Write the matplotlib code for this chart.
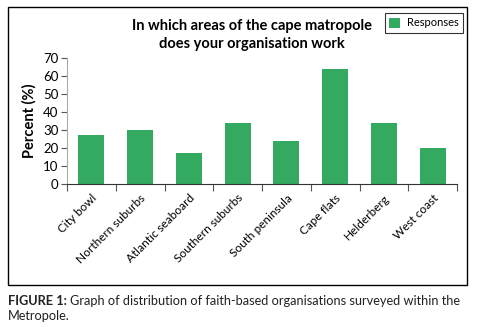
import matplotlib.pyplot as plt
from matplotlib.patches import Rectangle

areas = ['City bowl', 'Northern suburbs', 'Atlantic seaboard', 'Southern suburbs',
         'South peninsula', 'Cape flats', 'Helderberg', 'West coast']
responses = [27, 30, 17, 34, 24, 64, 34, 20]
yticks = [0, 10, 20, 30, 40, 50, 60, 70]

plt.rcParams['font.family'] = ['Lato', 'DejaVu Sans']

fig = plt.figure(figsize=(4.8, 3.27), dpi=100)
W, H = 480, 327

# outer frame around the chart
fig.patches.append(Rectangle((8 / W, 1 - 285 / H), 459 / W, 278 / H,
                             transform=fig.transFigure, fill=False,
                             edgecolor='black', linewidth=1.0))

ax = fig.add_axes([67 / W, 1 - 184 / H, 390 / W, 126 / H])
x = range(len(areas))
ax.bar(x, responses, width=0.53, color='#34AA61', label='Responses')

ax.set_xlim(-0.5, len(areas) - 0.5)
ax.set_ylim(0, 70)
ax.set_yticks(yticks)
ax.tick_params(axis='y', labelsize=9.5, length=4, color='#555555', pad=2)
ax.set_xticks([i - 0.5 for i in range(len(areas) + 1)])
ax.set_xticklabels([])
ax.set_xticks(list(x), minor=True)
ax.set_xticklabels(areas, minor=True, rotation=45, ha='right',
                   rotation_mode='anchor', fontsize=8.5)
ax.tick_params(axis='x', which='major', length=5, color='#555555')
ax.tick_params(axis='x', which='minor', length=0, pad=6)

ax.spines['top'].set_visible(False)
ax.spines['right'].set_visible(False)
ax.spines['left'].set_color('#AAAAAA')
ax.spines['bottom'].set_color('#333333')
ax.set_ylabel('Percent (%)', fontsize=10.5, fontweight='bold', labelpad=5)

fig.text(252 / W, 1 - 26 / H, 'In which areas of the cape matropole',
         ha='center', va='center', fontsize=10.5, fontweight='bold')
fig.text(252 / W, 1 - 44 / H, 'does your organisation work',
         ha='center', va='center', fontsize=10.5, fontweight='bold')

leg = ax.legend(loc='upper right', bbox_to_anchor=(463 / W, 1 - 13 / H),
                bbox_transform=fig.transFigure, fontsize=8, frameon=True,
                fancybox=False, edgecolor='black', handlelength=1.0,
                handleheight=1.0, borderpad=0.4, handletextpad=0.6,
                borderaxespad=0)
leg.get_frame().set_linewidth(0.8)

cap1 = fig.text(8 / W, 1 - 301 / H, 'FIGURE 1:', ha='left', va='center',
                fontsize=9.2, fontweight='bold', color='#222222')
fig.canvas.draw()
bb = cap1.get_window_extent(fig.canvas.get_renderer())
fig.text((bb.x1 + 3) / W, 1 - 301 / H,
         'Graph of distribution of faith-based organisations surveyed within the',
         ha='left', va='center', fontsize=9.2, color='#222222')
fig.text(8 / W, 1 - 316 / H, 'Metropole.', ha='left', va='center',
         fontsize=9.2, color='#222222')

fig.savefig('out.png', dpi=100)
